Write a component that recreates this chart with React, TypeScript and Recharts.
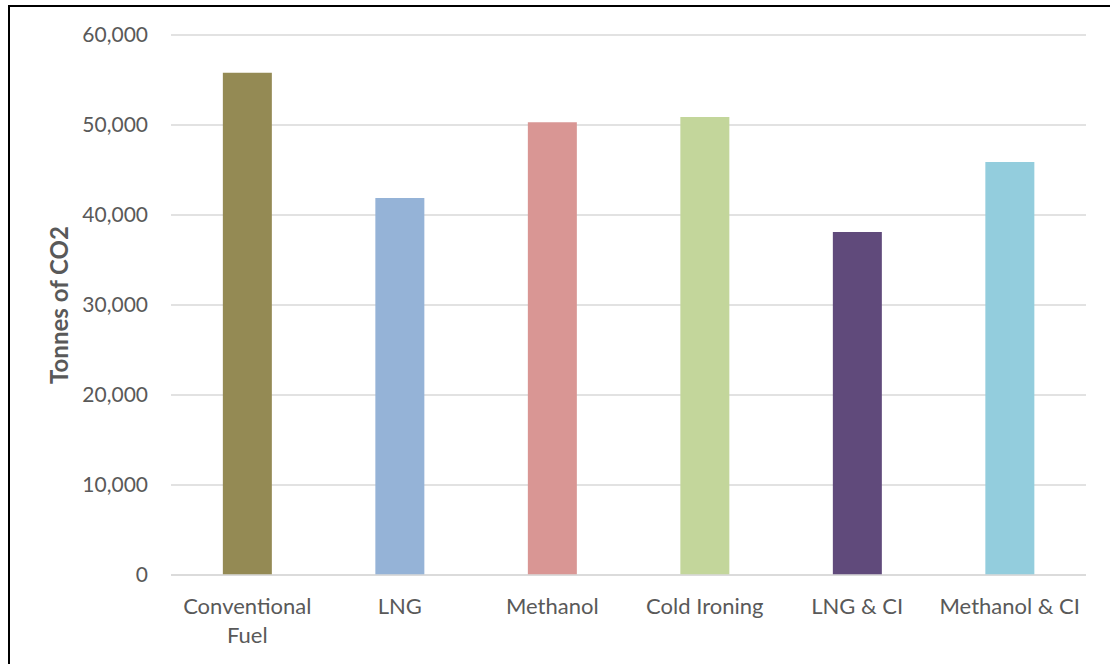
import React from 'react'
import { BarChart, Bar, XAxis, YAxis, CartesianGrid, Cell, Label } from 'recharts'

// Annual emissions per scenario (tonnes of CO2); "\n" marks a label line break
const scenarios = ['Conventional\nFuel', 'LNG', 'Methanol', 'Cold Ironing', 'LNG & CI', 'Methanol & CI']
const emissions = [55800, 41900, 50300, 50900, 38100, 45900]
const barColors = ['#948A54', '#95B3D7', '#D99694', '#C3D69B', '#604A7B', '#93CDDD']
const yTicks = [0, 10000, 20000, 30000, 40000, 50000, 60000]

const chartData = scenarios.map((name, i) => ({ name, value: emissions[i] }))

const FONT = 'Lato, "Open Sans", sans-serif'
const TEXT_COLOR = '#595959'

const CategoryTick = ({ x, y, payload }: any) => {
  const lines = String(payload.value).split('\n')
  return (
    <text x={x} y={y} textAnchor="middle" fill={TEXT_COLOR} fontSize={22} fontFamily={FONT}>
      {lines.map((line, i) => (
        <tspan key={i} x={x} dy={i === 0 ? 31 : 29}>
          {line}
        </tspan>
      ))}
    </text>
  )
}

const AxisTitle = ({ viewBox }: any) => {
  const cx = 48
  const cy = viewBox.y + viewBox.height / 2
  return (
    <text
      x={cx}
      y={cy}
      transform={`rotate(-90, ${cx}, ${cy})`}
      textAnchor="middle"
      dominantBaseline="central"
      fill={TEXT_COLOR}
      fontSize={24}
      fontWeight="bold"
      fontFamily={FONT}
    >
      Tonnes of CO2
    </text>
  )
}

export default function App() {
  return (
    <div
      style={{
        position: 'absolute',
        left: 8,
        top: 5,
        width: 1110,
        height: 680,
        border: '2px solid #000',
        background: '#fff',
      }}
    >
      <BarChart
        width={1100}
        height={660}
        data={chartData}
        margin={{ top: 28, right: 24, left: 0, bottom: 0 }}
        barCategoryGap="34%"
      >
        <CartesianGrid vertical={false} stroke="#d9d9d9" strokeWidth={1.5} />
        <XAxis
          dataKey="name"
          height={92}
          interval={0}
          tickLine={false}
          axisLine={{ stroke: '#d9d9d9', strokeWidth: 1.5 }}
          tick={<CategoryTick />}
        />
        <YAxis
          width={161}
          domain={[0, 60000]}
          ticks={yTicks}
          tickLine={false}
          axisLine={false}
          tickSize={0}
          tickMargin={23}
          tickFormatter={(v: number) => v.toLocaleString('en-US')}
          tick={{ fill: TEXT_COLOR, fontSize: 21, fontFamily: FONT }}
        >
          <Label content={<AxisTitle />} />
        </YAxis>
        <Bar dataKey="value" isAnimationActive={false}>
          {chartData.map((d, i) => (
            <Cell key={d.name} fill={barColors[i]} />
          ))}
        </Bar>
      </BarChart>
    </div>
  )
}
